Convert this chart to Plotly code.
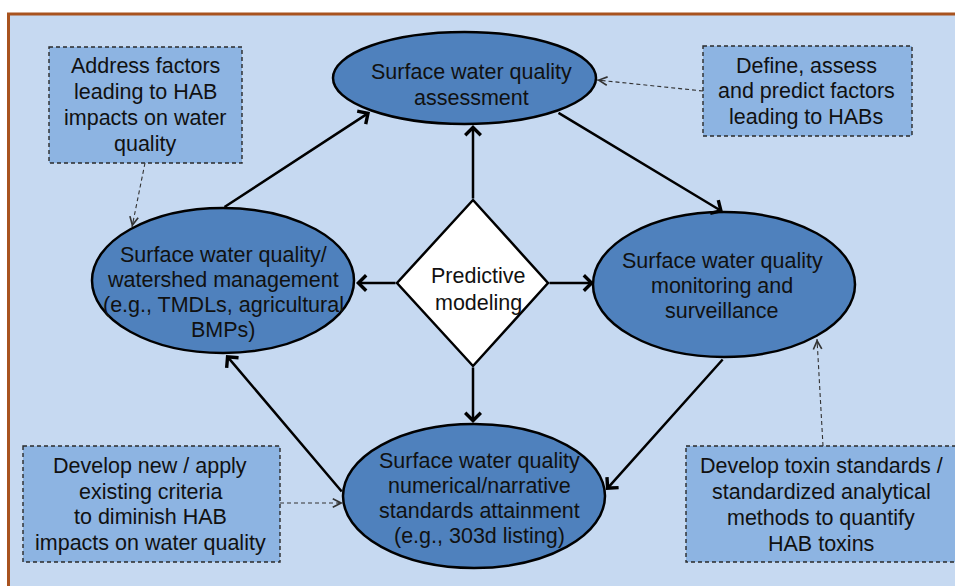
import plotly.graph_objects as go

# ---------------- content (text of the diagram) ----------------
assessment_lines = ["Surface water quality", "assessment"]
management_lines = ["Surface water quality/", "watershed management",
                    "(e.g., TMDLs, agricultural", "BMPs)"]
monitoring_lines = ["Surface water quality", "monitoring and", "surveillance"]
standards_lines = ["Surface water quality", "numerical/narrative",
                   "standards attainment", "(e.g., 303d listing)"]
modeling_lines = ["Predictive", "modeling"]
note_address_lines = ["Address factors", "leading to HAB", "impacts on water", "quality"]
note_define_lines = ["Define, assess", "and predict factors", "leading to HABs"]
note_criteria_lines = ["Develop new / apply", "existing criteria",
                       "to diminish HAB", "impacts on water quality"]
note_toxin_lines = ["Develop toxin standards /", "standardized analytical",
                    "methods to quantify", "HAB toxins"]

# ---------------- layout geometry (pixels, y downward) ----------------
ELLIPSES = {
    "assessment": (333, 32, 596, 124),
    "management": (92, 208, 354, 353),
    "monitoring": (593, 212, 855, 357),
    "standards": (343, 424, 605, 568),
}
DIAMOND = (473, 200, 548, 283, 473, 366, 397, 283)
BOXES = {
    "address": (49, 47, 242, 163),
    "define": (703, 46, 912, 136),
    "criteria": (23, 446, 280, 562),
    "toxin": (686, 446, 1000, 562),
}
TEXT_BLOCKS = [
    (assessment_lines, 471, 71.5, 26),
    (management_lines, 223, 255, 25),
    (monitoring_lines, 722, 261, 25),
    (standards_lines, 479, 460.5, 25),
    (modeling_lines, 478, 276, 26.5),
    (note_address_lines, 145, 66, 26),
    (note_define_lines, 806, 65.5, 25.8),
    (note_criteria_lines, 150, 466, 25.7),
    (note_toxin_lines, 821, 466, 26),
]
SOLID_ARROWS = [  # (tail x, tail y, tip x, tip y)
    (473, 200, 473, 125),
    (397, 283, 356, 283),
    (548, 283, 594, 283),
    (473, 366, 473, 423),
    (223, 208, 370, 112),
    (557, 112, 723, 212),
    (724, 358, 606, 490),
    (343, 493, 226, 355),
]
DASHED_ARROWS = [
    (145, 163, 132, 227),
    (703, 91, 597, 80),
    (280, 503, 343, 503),
    (823, 446, 817, 339),
]

BG = "#C6D9F1"
BOX_FILL = "#8DB4E2"
ELL_FILL = "#4F81BD"
TXT = "#111111"
FONT = "Liberation Sans, Arial, sans-serif"

fig = go.Figure()
fig.add_trace(go.Scatter(x=[0, 955], y=[0, 586], mode="markers",
                         marker=dict(opacity=0), hoverinfo="skip", showlegend=False))

shapes = []
# outer frame
shapes.append(dict(type="rect", xref="x", yref="y", x0=8.5, y0=14, x1=1200, y1=800,
                   fillcolor=BG, line=dict(color="#A8531F", width=3), layer="below"))
# dashed boxes
for x0, y0, x1, y1 in BOXES.values():
    shapes.append(dict(type="rect", xref="x", yref="y", x0=x0, y0=y0, x1=x1, y1=y1,
                       fillcolor=BOX_FILL, line=dict(color="#2a2a2a", width=1.4, dash="4px,3px"),
                       layer="below"))
# dashed connector lines
for tx, ty, hx, hy in DASHED_ARROWS:
    shapes.append(dict(type="line", xref="x", yref="y", x0=tx, y0=ty, x1=hx, y1=hy,
                       line=dict(color="#333333", width=1.1, dash="4px,3px"), layer="below"))
# ellipses
for x0, y0, x1, y1 in ELLIPSES.values():
    shapes.append(dict(type="circle", xref="x", yref="y", x0=x0, y0=y0, x1=x1, y1=y1,
                       fillcolor=ELL_FILL, line=dict(color="black", width=2.5), layer="above"))
# diamond
d = DIAMOND
shapes.append(dict(type="path", xref="x", yref="y",
                   path=f"M{d[0]},{d[1]} L{d[2]},{d[3]} L{d[4]},{d[5]} L{d[6]},{d[7]} Z",
                   fillcolor="white", line=dict(color="black", width=2.5), layer="above"))

annotations = []
for lines, cx, y0, dy in TEXT_BLOCKS:
    for i, t in enumerate(lines):
        annotations.append(dict(x=cx, y=y0 + i * dy, xref="x", yref="y", text=t,
                                showarrow=False, xanchor="center", yanchor="middle",
                                font=dict(family=FONT, size=21.5, color=TXT)))
for tx, ty, hx, hy in SOLID_ARROWS:
    annotations.append(dict(x=hx, y=hy, ax=tx, ay=ty, xref="x", yref="y",
                            axref="x", ayref="y", text="", showarrow=True,
                            arrowhead=4, arrowsize=1.2, arrowwidth=2.5,
                            arrowcolor="black", standoff=0, startstandoff=0))
for tx, ty, hx, hy in DASHED_ARROWS:
    L = ((hx - tx) ** 2 + (hy - ty) ** 2) ** 0.5
    ux, uy = (hx - tx) / L, (hy - ty) / L
    annotations.append(dict(x=hx, y=hy, ax=hx - 7 * ux, ay=hy - 7 * uy, xref="x", yref="y",
                            axref="x", ayref="y", text="", showarrow=True,
                            arrowhead=5, arrowsize=1.5, arrowwidth=1.1,
                            arrowcolor="#333333", standoff=0, startstandoff=0))

fig.update_layout(
    width=955, height=586, autosize=False,
    margin=dict(l=0, r=0, t=0, b=0, pad=0),
    paper_bgcolor="white", plot_bgcolor="white",
    xaxis=dict(range=[0, 955], visible=False, fixedrange=True),
    yaxis=dict(range=[586, 0], visible=False, fixedrange=True),
    shapes=shapes, annotations=annotations, showlegend=False,
)
fig.write_html("out.html", config={"displayModeBar": False},
               post_script="document.body.style.margin='0';document.body.style.overflow='hidden';")
